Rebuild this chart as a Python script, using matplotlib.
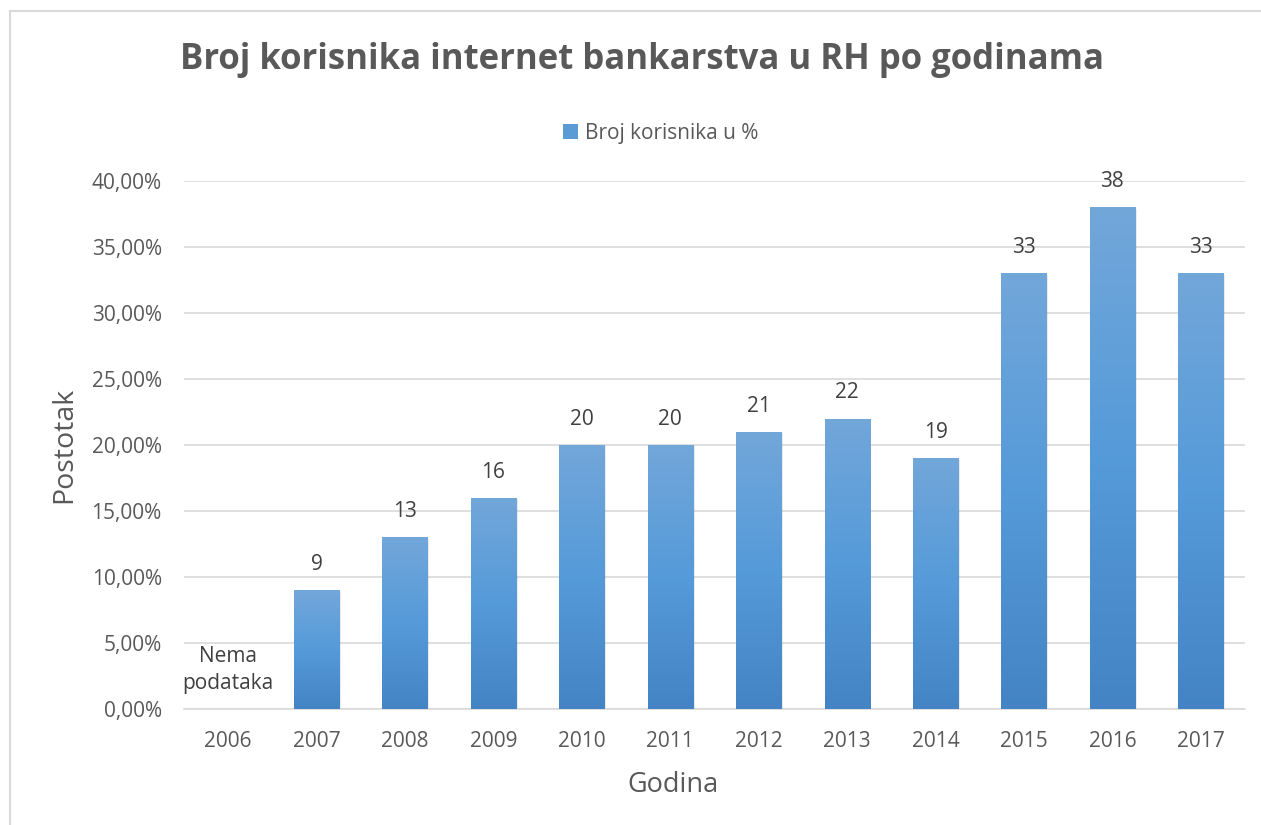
import numpy as np
import matplotlib
matplotlib.use("Agg")
import matplotlib.pyplot as plt
from matplotlib.colors import LinearSegmentedColormap
from matplotlib.patches import Rectangle, Patch
from matplotlib.ticker import FuncFormatter

plt.rcParams["font.family"] = ["Open Sans", "DejaVu Sans"]

YEARS = ["2006", "2007", "2008", "2009", "2010", "2011",
         "2012", "2013", "2014", "2015", "2016", "2017"]
USERS_PCT = [np.nan, 9, 13, 16, 20, 20, 21, 22, 19, 33, 38, 33]
TITLE = "Broj korisnika internet bankarstva u RH po godinama"
SERIES = "Broj korisnika u %"
NO_DATA = "Nema\npodataka"

TXT = "#595959"
GRID = "#d9d9d9"
GRAD = LinearSegmentedColormap.from_list("bar", ["#4484c4", "#559ad9", "#72a7da"])

W, H = 1261, 825
fig = plt.figure(figsize=(W / 100, H / 100), dpi=100)
ax = fig.add_axes([184 / W, 1 - 709 / H, (1245 - 184) / W, (709 - 181) / H])

x = np.arange(len(YEARS))
vals = np.array(USERS_PCT, dtype=float) / 100
bw = 0.51
grad = np.linspace(0, 1, 256).reshape(-1, 1)
for xi, v, lab in zip(x, vals, USERS_PCT):
    if np.isnan(v):
        ax.text(xi, 0.0295, NO_DATA, ha="center", va="center", fontsize=15,
                color="#404040", linespacing=1.35)
        continue
    # faint shadow then gradient fill
    ax.add_patch(Rectangle((xi - bw / 2 + 0.02, 0), bw, v - 0.001,
                           facecolor="#000000", alpha=0.08, lw=0, zorder=2))
    im = ax.imshow(grad, cmap=GRAD, aspect="auto", origin="lower",
                   extent=(xi - bw / 2, xi + bw / 2, 0, v), zorder=3)
    clip = Rectangle((xi - bw / 2, 0), bw, v, transform=ax.transData)
    im.set_clip_path(clip)
    ax.text(xi, v + 0.0115, f"{lab:g}", ha="center", va="bottom",
            fontsize=15, color="#404040", zorder=4)

ax.set_xlim(-0.5, len(YEARS) - 0.5)
ax.set_ylim(0, 0.40)
ax.set_yticks(np.arange(0, 0.401, 0.05))
ax.yaxis.set_major_formatter(FuncFormatter(lambda v, p: f"{v * 100:.2f}%".replace(".", ",")))
ax.set_xticks(x)
ax.set_xticklabels(YEARS)
ax.grid(axis="y", color=GRID, lw=1.2, zorder=0)
ax.set_axisbelow(True)
for s in ("top", "right", "left"):
    ax.spines[s].set_visible(False)
ax.spines["bottom"].set_color(GRID)
ax.spines["bottom"].set_linewidth(1.2)
ax.tick_params(length=0, labelsize=15, labelcolor=TXT)
ax.tick_params(axis="y", pad=16)
ax.tick_params(axis="x", pad=16)

ax.set_xlabel("Godina", fontsize=19.5, color=TXT)
ax.set_ylabel("Postotak", fontsize=20.5, color=TXT)
ax.xaxis.set_label_coords((673 - 184) / 1061, -(785 - 709) / 528)
ax.xaxis.label.set_va("center")
ax.yaxis.set_label_coords(-(184 - 64) / 1061, (709 - 445) / 528)
ax.yaxis.label.set_va("center")

fig.text(642 / W, 1 - 60 / H, TITLE, ha="center", va="center",
         fontsize=25, fontweight="bold", color=TXT)
leg = fig.legend([Patch(facecolor="#5b9bd5")], [SERIES], loc="center",
                 bbox_to_anchor=(661 / W, 1 - 133 / H), frameon=False,
                 fontsize=15, handlelength=0.7, handleheight=0.7, handletextpad=0.35)
for t in leg.get_texts():
    t.set_color(TXT)

# chart frame (top & left edges visible, the rest is cropped)
fig.add_artist(plt.Line2D([10 / W, 10 / W], [0, 1 - 11 / H], color=GRID, lw=1.5,
                          transform=fig.transFigure))
fig.add_artist(plt.Line2D([10 / W, 1], [1 - 11 / H, 1 - 11 / H], color=GRID, lw=1.5,
                          transform=fig.transFigure))

fig.savefig("out.png", dpi=100)
